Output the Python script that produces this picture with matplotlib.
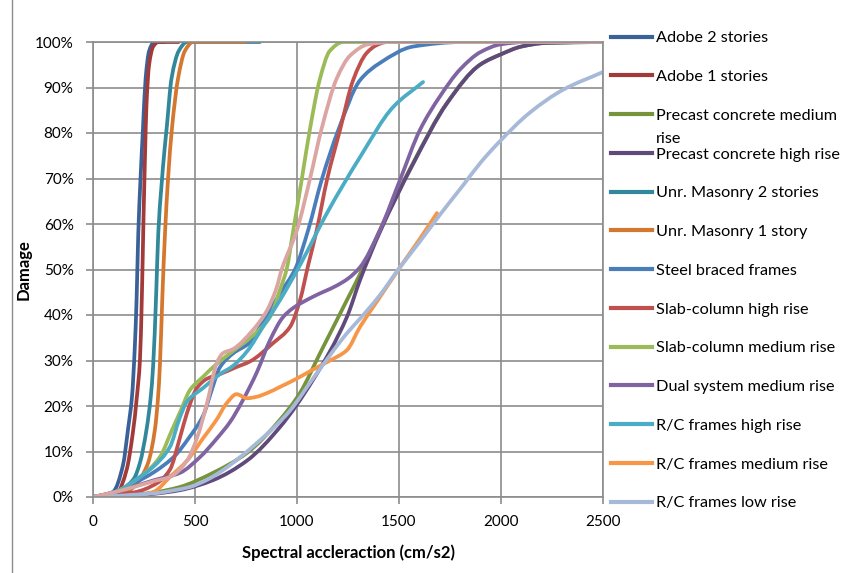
import matplotlib
matplotlib.use('Agg')
import numpy as np
import matplotlib.pyplot as plt
from matplotlib.lines import Line2D
from matplotlib.path import Path
from matplotlib.patches import PathPatch
from matplotlib.ticker import PercentFormatter

# series data: (spectral acceleration, damage %)
adobe2_x = [0, 50, 100, 147, 172, 191, 205, 214, 222, 233, 245, 258, 275, 300, 350]
adobe2_y = [0, 0.2, 1.2, 7, 15, 22, 33, 44, 58, 70, 81, 92, 98, 100, 100]

adobe1_x = [0, 60, 120, 165, 195, 215, 230, 240, 247, 255, 262, 275, 295, 320, 420]
adobe1_y = [0, 0.2, 1, 6, 14, 22, 30, 45, 60, 75, 86, 95, 99, 100, 100]

precast_med_x = [0, 100, 200, 300, 426, 588, 755, 917, 1015, 1113, 1245, 1309, 1407,
                 1569, 1735, 1897, 2000, 2100, 2220, 2500]
precast_med_y = [0, 0.2, 0.5, 1, 2.2, 5.3, 9.7, 17, 22.9, 31.6, 43.3, 49, 58.7,
                 73.4, 86.6, 95, 97.3, 99, 99.8, 100]

precast_high_x = [0, 100, 200, 300, 426, 588, 755, 917, 1078, 1245, 1309, 1407,
                  1569, 1735, 1897, 2000, 2100, 2220, 2500]
precast_high_y = [0, 0.1, 0.3, 0.7, 1.5, 3.7, 8, 15.4, 25.7, 39.6, 47.7, 58.3,
                  73.2, 86.5, 95, 97.3, 99, 99.8, 100]

unr2_x = [0, 80, 150, 200, 230, 263, 283, 295, 310, 320, 335, 350, 361, 385, 420, 460, 818]
unr2_y = [0, 0.5, 2, 4, 7.5, 15, 22, 29, 45, 58, 68, 76, 81, 92, 98, 100, 100]

unr1_x = [0, 100, 180, 230, 270, 304, 319, 328, 340, 353, 368, 387, 417, 450, 490, 745]
unr1_y = [0, 0.3, 1.5, 4, 7.5, 15, 22, 29, 44, 58, 70, 81, 92, 98, 100, 100]

steel_x = [0, 100, 200, 300, 400, 470, 541, 582, 622, 688, 770, 819, 917, 990, 1055,
           1121, 1203, 1309, 1407, 1569, 1814, 2500]
steel_y = [0, 1, 3, 5.5, 9, 13, 18, 23.5, 28.5, 31.6, 34, 37.4, 44.8, 50, 58.7,
           69.7, 80.7, 91.6, 95.4, 99, 100, 100]

slab_high_x = [0, 100, 200, 312, 377, 426, 461, 510, 559, 622, 700, 770, 882, 966, 1015,
               1055, 1097, 1147, 1211, 1275, 1340, 1390, 1440, 2500]
slab_high_y = [0, 0.5, 1, 3, 6, 13, 18.5, 24, 26, 27, 28.5, 29.8, 33.8, 37.4, 43.3,
               51, 58.7, 69.7, 80.7, 91.6, 97.5, 99.3, 100, 100]

slab_med_x = [0, 100, 230, 328, 387, 430, 475, 539, 600, 672, 770, 868, 920, 949, 982,
              1024, 1064, 1113, 1160, 1227, 2500]
slab_med_y = [0, 1, 4.4, 8.8, 14.7, 19, 23.5, 26.4, 29, 31.6, 35, 39.6, 46, 50, 58.7,
              70, 81, 92, 98, 100, 100]

dual_x = [0, 100, 200, 300, 426, 525, 606, 672, 735, 804, 868, 931, 980, 1078,
          1196, 1250, 1309, 1407, 1505, 1603, 1700, 1800, 1900, 2000, 2125, 2500]
dual_y = [0, 1, 2.3, 3.7, 5.3, 8.8, 12.8, 16.5, 21.3, 27.5, 34.5, 39.5, 41.5, 44,
          46.5, 48, 50.5, 58.7, 69.7, 80.7, 88, 94, 97.8, 99.5, 100, 100]

rc_high_x = [0, 60, 132, 200, 294, 377, 426, 461, 541, 622, 686, 755, 833, 917, 1015,
             1147, 1309, 1471, 1618]
rc_high_y = [0, 0.5, 1.5, 3.5, 6.6, 11, 17.5, 21, 24, 27, 28.8, 32, 37.4, 43.3, 51,
             62.4, 74.7, 85.7, 91.2]

rc_med_x = [0, 150, 250, 300, 377, 461, 541, 606, 655, 704, 755, 800, 851, 917, 998,
            1078, 1162, 1245, 1309, 1400, 1505, 1600, 1686]
rc_med_y = [0, 0.2, 0.6, 1.2, 4.4, 8, 13, 17, 20.6, 22.6, 21.7, 22, 22.8, 24.2, 26,
            28, 30, 32.3, 37.4, 43.5, 50.5, 56.6, 62.4]

rc_low_x = [0, 100, 200, 300, 400, 475, 560, 637, 720, 804, 890, 966, 1078, 1245, 1309,
            1400, 1505, 1600, 1700, 1814, 1900, 1980, 2142, 2304, 2500]
rc_low_y = [0, 0.2, 0.5, 0.8, 1.5, 2.2, 3.8, 5.9, 8.7, 11.9, 15.4, 19, 26, 36, 39.2,
            44, 50.5, 56, 62, 68.5, 73.5, 77.5, 84.5, 89.5, 93.4]

# unlabelled series (not in legend)
extra_x = [0, 100, 200, 300, 377, 461, 510, 559, 607, 637, 686, 784, 853, 900, 925, 1000,
           1064, 1121, 1195, 1260, 1350, 1470, 2500]
extra_y = [0, 1, 2.2, 3.5, 4.4, 8, 13, 20.6, 29.5, 31.6, 32.5, 36.7, 41, 46, 50, 58.7,
           70, 81, 92, 97, 99.5, 100, 100]

series = [
    ('Adobe 2 stories', adobe2_x, adobe2_y, '#3a6298'),
    ('Adobe 1 stories', adobe1_x, adobe1_y, '#a23a3a'),
    ('Precast concrete medium', precast_med_x, precast_med_y, '#77933c'),
    ('Precast concrete high rise', precast_high_x, precast_high_y, '#604a7b'),
    ('Unr. Masonry 2 stories', unr2_x, unr2_y, '#31889b'),
    ('Unr. Masonry 1 story', unr1_x, unr1_y, '#d4782f'),
    ('Steel braced frames', steel_x, steel_y, '#4a7ebb'),
    ('Slab-column high rise', slab_high_x, slab_high_y, '#c0504d'),
    ('Slab-column medium rise', slab_med_x, slab_med_y, '#9bbb59'),
    ('Dual system medium rise', dual_x, dual_y, '#8064a2'),
    ('R/C frames high rise', rc_high_x, rc_high_y, '#4bacc6'),
    ('R/C frames medium rise', rc_med_x, rc_med_y, '#f79646'),
    ('R/C frames low rise', rc_low_x, rc_low_y, '#a7b9d9'),
]


def smooth_path(xs, ys):
    # smoothed line like Excel: cubic bezier through the points, monotone tangents
    x = np.asarray(xs, float)
    y = np.asarray(ys, float) / 100
    h = np.diff(x)
    d = np.diff(y) / h
    m = np.zeros_like(x)
    m[0], m[-1] = d[0], d[-1]
    for i in range(1, len(x) - 1):
        if d[i - 1] * d[i] > 0:
            w1 = 2 * h[i] + h[i - 1]
            w2 = h[i] + 2 * h[i - 1]
            m[i] = (w1 + w2) / (w1 / d[i - 1] + w2 / d[i])
    verts = [(x[0], y[0])]
    codes = [Path.MOVETO]
    for i in range(len(x) - 1):
        verts += [(x[i] + h[i] / 3, y[i] + m[i] * h[i] / 3),
                  (x[i + 1] - h[i] / 3, y[i + 1] - m[i + 1] * h[i] / 3),
                  (x[i + 1], y[i + 1])]
        codes += [Path.CURVE4] * 3
    return Path(verts, codes)


plt.rcParams['font.family'] = ['Lato', 'DejaVu Sans']

fig = plt.figure(figsize=(8.5, 5.73), dpi=100)
ax = fig.add_axes([93 / 850, 1 - 497 / 573, 510 / 850, 455 / 573])

LW = 2.7
handles = []
for name, xs, ys, col in series:
    ax.add_patch(PathPatch(smooth_path(xs, ys), fill=False, edgecolor=col, lw=LW,
                           capstyle='round', joinstyle='round'))
    handles.append(Line2D([], [], color=col, lw=3, label=name))
ax.add_patch(PathPatch(smooth_path(extra_x, extra_y), fill=False, edgecolor='#dba5a2',
                       lw=LW, capstyle='round', joinstyle='round'))

ax.set_xlim(0, 2500)
ax.set_ylim(0, 1)
ax.set_xticks(range(0, 2501, 500))
ax.set_yticks([i / 10 for i in range(11)])
ax.yaxis.set_major_formatter(PercentFormatter(1.0, decimals=0))
ax.grid(True, color='#8c8c8c', lw=1.2)
ax.set_axisbelow(True)
for s in ax.spines.values():
    s.set_color('#8c8c8c')
    s.set_linewidth(1.2)
ax.tick_params(colors='#8c8c8c', labelcolor='black', labelsize=11, length=5, width=1.2)
ax.tick_params(axis='y', pad=9)
ax.tick_params(axis='x', pad=8)
ax.set_xlabel('Spectral accleraction (cm/s2)', fontsize=12, fontweight='bold', labelpad=11)
ax.set_ylabel('Damage', fontsize=12, fontweight='bold', labelpad=2)

leg = fig.legend(handles=handles, loc='upper left', bbox_to_anchor=(611 / 850, 1 - 31 / 573),
                 frameon=False, fontsize=11.7, handlelength=2.5, handletextpad=0.25,
                 labelspacing=1.5, borderpad=0, borderaxespad=0)

# wrapped second line of the third legend entry
fig.canvas.draw()
bb = leg.get_texts()[2].get_window_extent()
fig.text(bb.x0 / 850, (bb.y0 - 23) / 573, 'rise', fontsize=11.7, va='bottom', ha='left')

# chart area border
fig.add_artist(Line2D([12 / 850, 12 / 850], [0, 1], color='#8c8c8c', lw=1))

fig.savefig('out.png', dpi=100)
